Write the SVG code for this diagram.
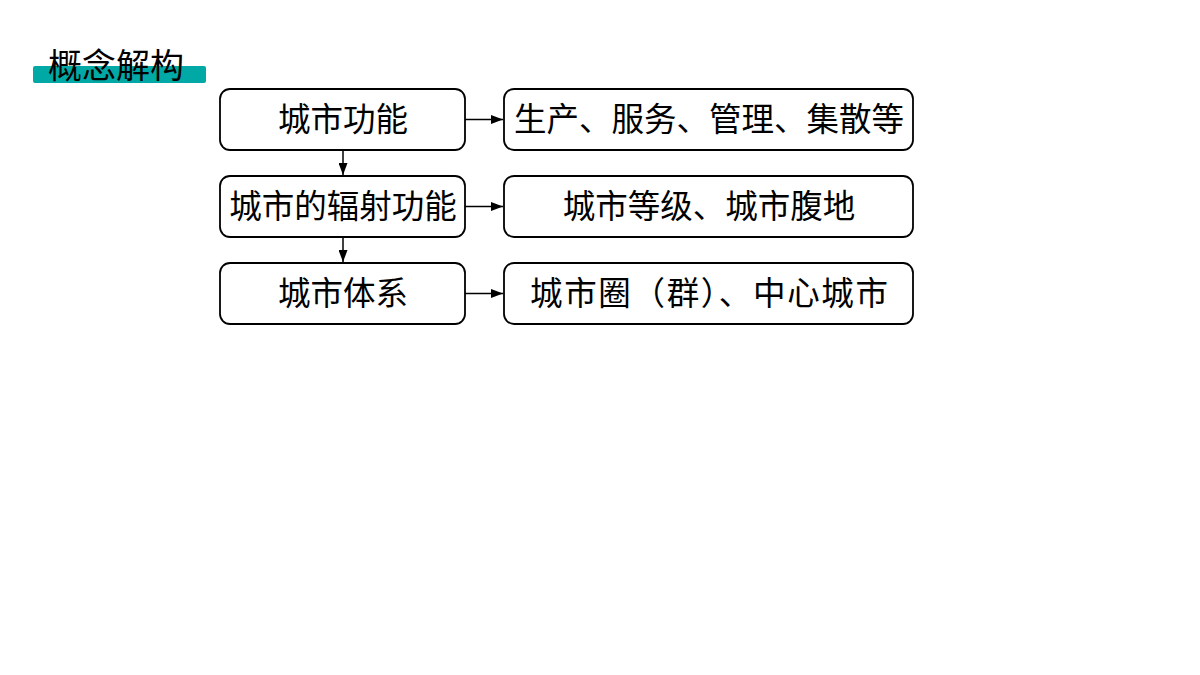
<svg xmlns="http://www.w3.org/2000/svg" width="1200" height="675" viewBox="0 0 1200 675">
<style>
.box{fill:#fff;stroke:#000;stroke-width:1.8}
.t{font-family:"Noto Sans CJK SC","Noto Sans",sans-serif;font-size:32.5px;fill:#000;text-anchor:middle}
.c{stroke:#000;stroke-width:1.5;fill:none}
</style>
<defs>
<marker id="ah" viewBox="0 0 12 9" refX="12" refY="4.5" markerWidth="12" markerHeight="9" markerUnits="userSpaceOnUse" orient="auto">
<path d="M0,0 L12,4.5 L0,9 Z" fill="#000"/>
</marker>
</defs>
<rect width="1200" height="675" fill="#fff"/>
<g id="title">
<rect x="33" y="66" width="173" height="17" rx="2" fill="#00A9A5"/>
<text x="116" y="78" font-family="Noto Sans CJK SC, sans-serif" font-size="34" text-anchor="middle" fill="#000">概念解构</text>
</g>
<g id="n1"><rect class="box" x="220" y="89" width="245" height="61" rx="10"/><text class="t" x="343" y="131">城市功能</text></g>
<g id="n2"><rect class="box" x="220" y="176" width="245" height="61" rx="10"/><text class="t" x="343" y="218">城市的辐射功能</text></g>
<g id="n3"><rect class="box" x="220" y="263" width="245" height="61" rx="10"/><text class="t" x="343" y="305">城市体系</text></g>
<g id="r1"><rect class="box" x="504" y="89" width="409" height="61" rx="10"/><text class="t" x="709" y="131">生产、服务、管理、集散等</text></g>
<g id="r2"><rect class="box" x="504" y="176" width="409" height="61" rx="10"/><text class="t" x="709" y="218">城市等级、城市腹地</text></g>
<g id="r3"><rect class="box" x="504" y="263" width="409" height="61" rx="10"/><text class="t" x="709" y="305" textLength="358" lengthAdjust="spacing">城市圈（群）、中心城市</text></g>
<g id="connectors">
<line class="c" x1="343" y1="150" x2="343" y2="175" marker-end="url(#ah)"/>
<line class="c" x1="343" y1="237" x2="343" y2="262" marker-end="url(#ah)"/>
<line class="c" x1="465" y1="119.5" x2="503" y2="119.5" marker-end="url(#ah)"/>
<line class="c" x1="465" y1="206.5" x2="503" y2="206.5" marker-end="url(#ah)"/>
<line class="c" x1="465" y1="293.5" x2="503" y2="293.5" marker-end="url(#ah)"/>
</g>
</svg>
